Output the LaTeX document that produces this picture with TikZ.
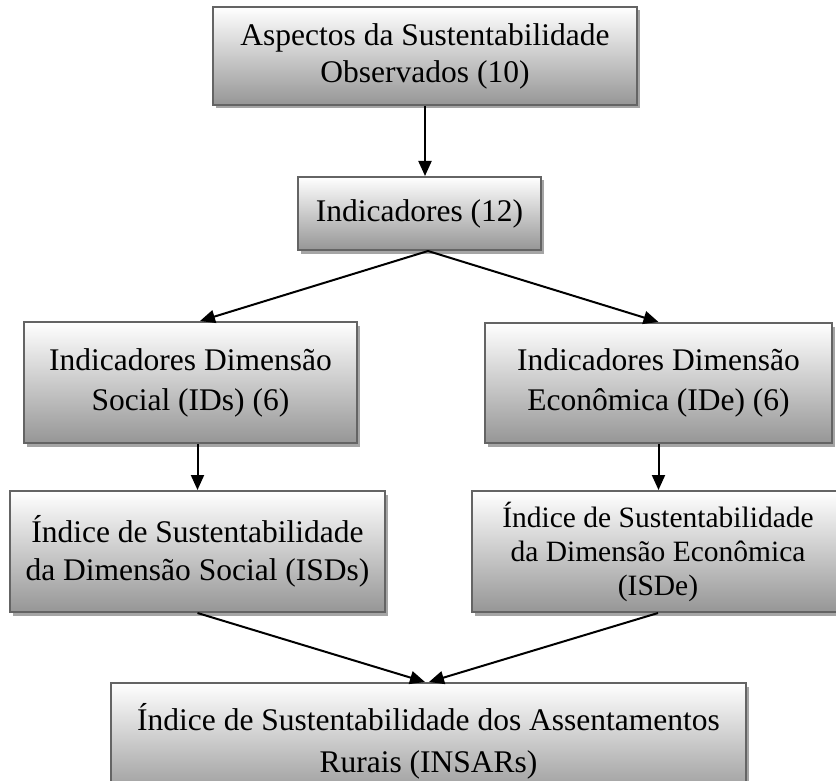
\documentclass[tikz,border=0pt]{standalone}
\usepackage{fontspec}
\setmainfont{Liberation Serif}
\usetikzlibrary{arrows.meta,calc,shadows}
\definecolor{boxline}{RGB}{100,100,100}
\definecolor{boxbottom}{RGB}{150,150,150}
\definecolor{shadowgray}{RGB}{165,165,165}
\tikzset{
  box/.style={draw=boxline, line width=2pt, top color=white, bottom color=boxbottom,
    drop shadow={shadow xshift=3pt, shadow yshift=-3.5pt, fill=shadowgray, opacity=1},
    align=center, inner sep=0pt, font=\fontsize{31.5}{40}\selectfont},
  arr/.style={line width=2pt, -{Triangle[length=15pt,width=13pt]}}
}
\begin{document}
\begin{tikzpicture}[x=1pt,y=-1pt]
\useasboundingbox (0,0) rectangle (836,781);
\clip (0,0) rectangle (836,781);
\node[box, minimum width=424pt, minimum height=98pt, font=\fontsize{31.5}{37}\selectfont] (b1) at (425,56) {Aspectos da Sustentabilidade\\Observados (10)};
\node[box, minimum width=243pt, minimum height=73pt] (b2) at (419.5,213.5) {Indicadores (12)};
\node[box, minimum width=333pt, minimum height=121pt] (b3) at (190.5,382.5) {Indicadores Dimensão\\Social (IDs) (6)};
\node[box, minimum width=347pt, minimum height=120pt] (b4) at (658.5,383) {Indicadores Dimensão\\Econômica (IDe) (6)};
\node[box, minimum width=375pt, minimum height=121pt, font=\fontsize{31.5}{38}\selectfont] (b5) at (197.5,551.5) {Índice de Sustentabilidade\\da Dimensão Social (ISDs)};
\node[box, minimum width=372pt, minimum height=121pt, font=\fontsize{29.5}{34}\selectfont] (b6) at (658,551.5) {Índice de Sustentabilidade\\da Dimensão Econômica\\(ISDe)};
\node[box, minimum width=635pt, minimum height=117pt, font=\fontsize{31.5}{42}\selectfont] (b7) at (428.5,741.5) {Índice de Sustentabilidade dos Assentamentos\\Rurais (INSARs)};
\coordinate (s2) at ($(b2.south)+(8.5,0)$);
\draw[arr] (b1.south) -- (b1.south |- b2.north);
\draw[arr] (s2) -- ($(b3.north)+(9.5,0)$);
\draw[arr] (s2) -- (b4.north);
\draw[arr] (b5.north |- b3.south) -- (b5.north);
\draw[arr] (b4.south) -- (b4.south |- b6.north);
\draw[arr] (b5.south) -- ($(b7.north)+(-3.5,0)$);
\draw[arr] (b6.south) -- ($(b7.north)+(0.5,0)$);
\end{tikzpicture}
\end{document}
